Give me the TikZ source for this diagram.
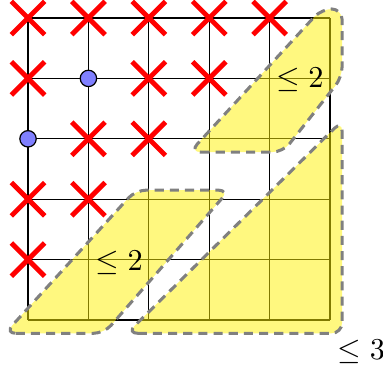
\documentclass[tikz,border=0pt]{standalone}
\usepackage{amsmath}
\usetikzlibrary{shapes.misc}
\tikzset{
  xmark/.style={cross out,draw=red,line width=1.6pt,minimum size=0.33cm,inner sep=0pt},
  freedot/.style={circle,draw=black,line width=0.4pt,fill=blue!50,minimum size=0.19cm,inner sep=0pt},
  zone/.style={fill=yellow,fill opacity=0.5,draw=black!50,line width=1pt,
    dash pattern=on 3pt off 2pt,rounded corners=3.5pt}
}
\begin{document}
\begin{tikzpicture}[x=0.7cm,y=0.7cm]
\useasboundingbox (-0.464,-0.811) rectangle (5.877,5.298);
\foreach \k in {0,...,5} {
  \draw[line width=0.4pt] (\k,0) -- (\k,5);
  \draw[line width=0.4pt] (0,\k) -- (5,\k);
}
% shaded zones
\draw[zone] (2.68,2.78) -- (4.22,2.78) -- (5.2,4.02) -- (5.2,5.15) -- (4.86,5.15) -- cycle;
\draw[zone] (-0.38,-0.22) -- (1.26,-0.22) -- (3.33,2.15) -- (1.78,2.15) -- cycle;
\draw[zone] (1.64,-0.22) -- (5.2,-0.22) -- (5.2,3.3) -- cycle;
% excluded points
\node[xmark] (x05) at (0,5) {};
\node[xmark] (x15) at (1,5) {};
\node[xmark] (x25) at (2,5) {};
\node[xmark] (x35) at (3,5) {};
\node[xmark] (x45) at (4,5) {};
\node[xmark] (x04) at (0,4) {};
\node[xmark] (x24) at (2,4) {};
\node[xmark] (x34) at (3,4) {};
\node[xmark] (x13) at (1,3) {};
\node[xmark] (x23) at (2,3) {};
\node[xmark] (x02) at (0,2) {};
\node[xmark] (x12) at (1,2) {};
\node[xmark] (x01) at (0,1) {};
% free points
\node[freedot] (d14) at (1,4) {};
\node[freedot] (d03) at (0,3) {};
% bounds
\node (upper) at (4.5,3.97) {$\leq 2$};
\node (lower) at (1.51,0.95) {$\leq 2$};
\node (big) at (5.52,-0.53) {$\leq 3$};
\end{tikzpicture}
\end{document}
